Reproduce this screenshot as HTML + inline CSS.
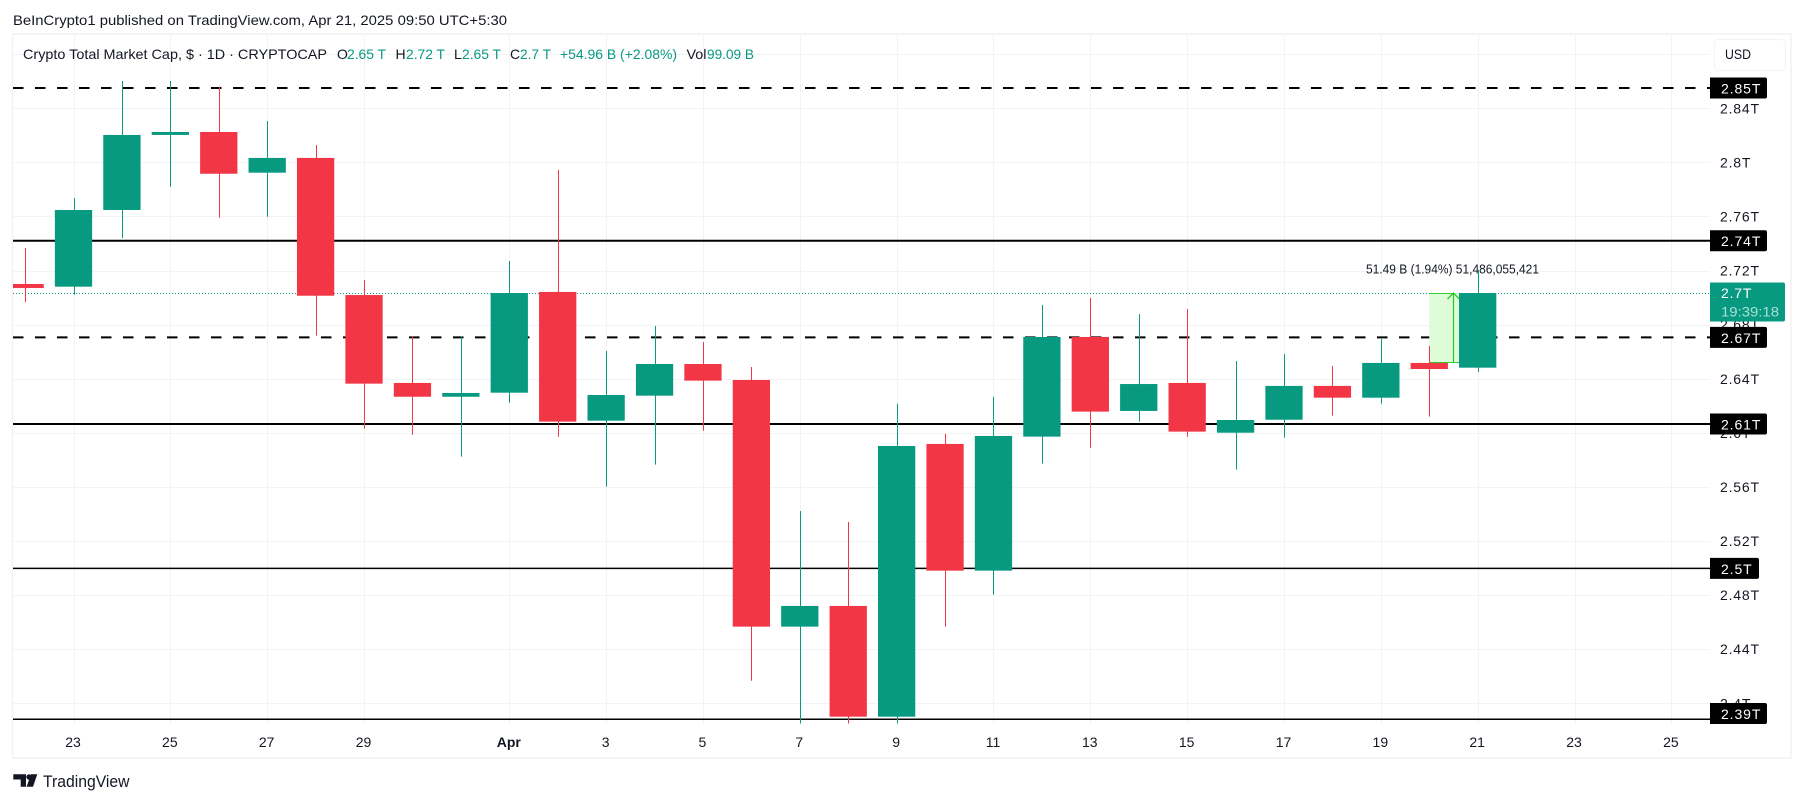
<!DOCTYPE html>
<html>
<head>
<meta charset="utf-8">
<title>Crypto Total Market Cap</title>
<style>
html,body{margin:0;padding:0;background:#fff;width:1804px;height:803px;overflow:hidden}
svg{display:block}
text{font-family:"Liberation Sans",sans-serif;font-size:14px;fill:#131722}
</style>
</head>
<body>
<svg id="chart" xmlns="http://www.w3.org/2000/svg" width="1804" height="803" viewBox="0 0 1804 803">
  <text x="13" y="25" textLength="494" lengthAdjust="spacingAndGlyphs">BeInCrypto1 published on TradingView.com, Apr 21, 2025 09:50 UTC+5:30</text>
  <rect x="12.5" y="34" width="1778.5" height="724" fill="#fff" stroke="#f5f5f6" stroke-width="2"/>
  <g id="grid"></g>
  <g id="range"></g>
  <g id="levels"></g>
  <g id="candles"></g>
  <g id="axisY"></g>
  <g id="axisX"></g>
  <g id="legend">
    <text x="23" y="59" textLength="304" lengthAdjust="spacingAndGlyphs">Crypto Total Market Cap, $ · 1D · CRYPTOCAP</text>
    <text x="337" y="59">O</text>
    <text x="347" y="59" textLength="39" lengthAdjust="spacingAndGlyphs" style="fill:#089981">2.65 T</text>
    <text x="395.5" y="59">H</text>
    <text x="406" y="59" textLength="39" lengthAdjust="spacingAndGlyphs" style="fill:#089981">2.72 T</text>
    <text x="454" y="59">L</text>
    <text x="462" y="59" textLength="39" lengthAdjust="spacingAndGlyphs" style="fill:#089981">2.65 T</text>
    <text x="510" y="59">C</text>
    <text x="520" y="59" textLength="31" lengthAdjust="spacingAndGlyphs" style="fill:#089981">2.7 T</text>
    <text x="560" y="59" textLength="117" lengthAdjust="spacingAndGlyphs" style="fill:#089981">+54.96 B (+2.08%)</text>
    <text x="686.5" y="59" textLength="20" lengthAdjust="spacingAndGlyphs">Vol</text>
    <text x="707" y="59" textLength="47" lengthAdjust="spacingAndGlyphs" style="fill:#089981">99.09 B</text>
  </g>
  <g>
    <rect x="1714.5" y="39.5" width="71" height="31" rx="4" fill="#fff" stroke="#f0f3fa"/>
    <text x="1725" y="59" textLength="26" lengthAdjust="spacingAndGlyphs">USD</text>
  </g>
  <g>
    <path d="M13.300 774.300H26V786.700H20.700V779.500H13.300ZM31 774.300H37.300L33 786.700H26.600ZM29 774.300a2.700 2.700 0 1 1 0 5.400a2.700 2.700 0 1 1 0-5.400Z" fill="#131722"/>
    <text x="43" y="787" textLength="86.500" lengthAdjust="spacingAndGlyphs" style="font-size:17px">TradingView</text>
  </g>
</svg>
<script>
const dayLabels = ["Mar 22","Mar 23","Mar 24","Mar 25","Mar 26","Mar 27","Mar 28","Mar 29","Mar 30","Mar 31","Apr 1","Apr 2","Apr 3","Apr 4","Apr 5","Apr 6","Apr 7","Apr 8","Apr 9","Apr 10","Apr 11","Apr 12","Apr 13","Apr 14","Apr 15","Apr 16","Apr 17","Apr 18","Apr 19","Apr 20","Apr 21"];
const opens  = [2.7101,2.7081,2.7648,2.8203,2.8225,2.7924,2.8033,2.7019,2.6369,2.6267,2.6297,2.7042,2.6090,2.6275,2.6509,2.6391,2.4567,2.4720,2.3901,2.5918,2.4981,2.5972,2.6709,2.6162,2.6369,2.6001,2.6097,2.6347,2.6260,2.6517,2.6482];
const highs  = [2.7367,2.7737,2.8602,2.8602,2.8560,2.8306,2.8129,2.7130,2.6714,2.6714,2.7271,2.7944,2.6605,2.6790,2.6672,2.6487,2.5422,2.5341,2.6215,2.5992,2.6267,2.6946,2.6997,2.6879,2.6916,2.6531,2.6583,2.6494,2.6694,2.6642,2.7204];
const lows   = [2.6968,2.7022,2.7441,2.7820,2.7591,2.7598,2.6719,2.6031,2.5986,2.5824,2.6223,2.5972,2.5602,2.5765,2.6016,2.4167,2.3803,2.3847,2.3803,2.4567,2.4803,2.5772,2.5890,2.6083,2.5972,2.5728,2.5964,2.6127,2.6216,2.6120,2.6450];
const closes = [2.7071,2.7648,2.8203,2.8225,2.7916,2.8033,2.7014,2.6364,2.6267,2.6295,2.7034,2.6083,2.6280,2.6509,2.6386,2.4567,2.4720,2.3901,2.5903,2.4981,2.5977,2.6709,2.6157,2.6361,2.6009,2.6095,2.6347,2.6260,2.6517,2.6472,2.7034];

const priceTicks = [2.84,2.8,2.76,2.72,2.68,2.64,2.6,2.56,2.52,2.48,2.44,2.4];
const priceTickLabels = ["2.84T","2.8T","2.76T","2.72T","2.68T","2.64T","2.6T","2.56T","2.52T","2.48T","2.44T","2.4T"];
const extraGridPrices = [2.88];

const timeTickIndex = [1,3,5,7,10,12,14,16,18,20,22,24,26,28,30,32,34];
const timeTickLabels = ["23","25","27","29","Apr","3","5","7","9","11","13","15","17","19","21","23","25"];

const levelValues = [2.8550,2.7421,2.6706,2.6065,2.4998,2.3882];
const levelLabels = ["2.85T","2.74T","2.67T","2.61T","2.5T","2.39T"];
const levelDashed = [true,false,true,false,false,false];
const levelWeight = [2,2,2,2,1.5,1.5];

const lastPrice = 2.7034;
const lastPriceLabel = "2.7T";
const countdownLabel = "19:39:18";

const rangeFromIndex = 29;
const rangeToIndex = 30;
const rangeFromPrice = 2.6517;
const rangeToPrice = 2.7034;
const rangeCaption = "51.49 B (1.94%) 51,486,055,421";

const PLOT = {left: 13, right: 1710, top: 35, bottom: 723.5};
const UP = "#089981", DOWN = "#f23645";
const GRID = "#f2f3f5";
function xDay(i){ return 73.5 + (i - 1) * 48.42; }
function yPrice(v){ return 108.3 + (2.84 - v) * 1352.3; }

const NS = "http://www.w3.org/2000/svg";
function mk(parent, tag, attrs, text){
  const el = document.createElementNS(NS, tag);
  for (const k in attrs) el.setAttribute(k, attrs[k]);
  if (text !== undefined) el.textContent = text;
  parent.appendChild(el);
  return el;
}

const defs = mk(document.getElementById("chart"), "defs", {});
const clip = mk(defs, "clipPath", {id: "plotClip"});
mk(clip, "rect", {x: PLOT.left, y: PLOT.top, width: PLOT.right - PLOT.left, height: PLOT.bottom - PLOT.top});

/* grid */
const grid = document.getElementById("grid");
priceTicks.concat(extraGridPrices).forEach(function(v){
  const y = Math.round(yPrice(v)) + 0.5;
  const ln = mk(grid, "line", {x1: PLOT.left, x2: PLOT.right, y1: y, y2: y, stroke: GRID, "stroke-width": 1});
  
  
});
timeTickIndex.forEach(function(i){
  const x = Math.round(xDay(i)) + 0.5;
  const ln = mk(grid, "line", {x1: x, x2: x, y1: PLOT.top, y2: PLOT.bottom, stroke: GRID, "stroke-width": 1});
  
  
});

/* range tool */
const range = document.getElementById("range");
const rx1 = xDay(rangeFromIndex), rx2 = xDay(rangeToIndex);
const ry1 = yPrice(rangeToPrice), ry2 = yPrice(rangeFromPrice);
const rmid = (rx1 + rx2) / 2;
const rangeRect = mk(range, "rect", {x: rx1, y: ry1, width: rx2 - rx1, height: ry2 - ry1, fill: "#dffcd9"});



/* last price line */
const levels = document.getElementById("levels");
const lastY = Math.round(yPrice(lastPrice)) + 0.5;
const lastLine = mk(levels, "line", {x1: PLOT.left, x2: PLOT.right, y1: lastY, y2: lastY, stroke: UP, "stroke-width": 1, "stroke-dasharray": "1 2"});



/* levels */
levelValues.forEach(function(v, i){
  const y = yPrice(v);
  const attrs = {x1: PLOT.left, x2: PLOT.right, y1: y, y2: y, stroke: "#000", "stroke-width": levelWeight[i]};
  if (levelDashed[i]) attrs["stroke-dasharray"] = "10.5 11.5";
  const ln = mk(levels, "line", attrs);
  
  
});

/* range arrow and edges */
const rangeEdges = mk(range, "path", {d: "M" + rx1 + " " + (ry1 + 0.5) + "H" + rmid + "M" + rx1 + " " + (ry2 - 0.5) + "H" + rx2, stroke: "#2fd02f", "stroke-width": 1, fill: "none"});


levels.parentNode.insertBefore(range, levels.nextSibling);
const arrow = mk(range, "path", {d: "M" + rmid + " " + ry2 + "V" + ry1 + "M" + (rmid - 6) + " " + (ry1 + 6) + "L" + rmid + " " + ry1 + "L" + (rmid + 6) + " " + (ry1 + 6), stroke: "#22c922", "stroke-width": 1.2, fill: "none"});



/* candles */
const candles = document.getElementById("candles");
candles.setAttribute("clip-path", "url(#plotClip)");
const bodyWidth = 0.77 * 48.42;
opens.forEach(function(o, i){
  const c = closes[i], color = c >= o ? UP : DOWN;
  const x = xDay(i);
  const wx = Math.round(x) + 0.5;
  const wick = mk(candles, "line", {x1: wx, x2: wx, y1: yPrice(highs[i]), y2: yPrice(lows[i]), stroke: color, "stroke-width": 1});
  
  
  const top = yPrice(Math.max(o, c)), bot = yPrice(Math.min(o, c));
  const body = mk(candles, "rect", {x: x - bodyWidth / 2, y: top, width: bodyWidth, height: Math.max(bot - top, 1), fill: color});
  
  
  const tip = mk(body, "title", {}, dayLabels[i]);
  
  
});

/* caption of range tool */
const capt = mk(range, "text", {x: 1366, y: yPrice(rangeToPrice) - 19.5, textLength: 173, lengthAdjust: "spacingAndGlyphs", style: "font-size:12.5px"}, rangeCaption);



/* price axis */
const axisY = document.getElementById("axisY");
priceTicks.forEach(function(v, i){
  const t = mk(axisY, "text", {x: 1720, y: yPrice(v) + 5, "letter-spacing": "0.8"}, priceTickLabels[i]);
  
  
});

/* last price tag */
const lastBoxY = yPrice(lastPrice) - 10.5;
const lastBox = mk(axisY, "path", {d: "M" + PLOT.right + " " + lastBoxY + "h73a2 2 0 0 1 2 2v35a2 2 0 0 1-2 2h-73z", fill: UP});


const lastText = mk(axisY, "text", {x: 1721, y: lastBoxY + 15.5, "letter-spacing": "0.8", style: "fill:#fff"}, lastPriceLabel);


const cdText = mk(axisY, "text", {x: 1721, y: lastBoxY + 34, textLength: 58, lengthAdjust: "spacingAndGlyphs", style: "fill:#a8e0d4"}, countdownLabel);



/* level tags */
levelValues.forEach(function(v, i){
  const label = levelLabels[i];
  const cy = Math.min(yPrice(v), PLOT.bottom - 10);
  const w = label.length === 4 ? 49 : 57;
  const box = mk(axisY, "path", {d: "M" + PLOT.right + " " + (cy - 10.5) + "h" + (w - 2) + "a2 2 0 0 1 2 2v17a2 2 0 0 1-2 2h-" + (w - 2) + "z", fill: "#000"});
  
  
  const t = mk(axisY, "text", {x: 1721, y: cy + 5.5, "letter-spacing": "0.9", style: "fill:#fff"}, label);
  
  
});

/* time axis */
const axisX = document.getElementById("axisX");
timeTickIndex.forEach(function(i, n){
  const label = timeTickLabels[n];
  const t = mk(axisX, "text", {x: xDay(i) - 0.5, y: 747, "text-anchor": "middle"}, label);
  if (label === "Apr") t.setAttribute("font-weight", "bold");
  
  
});
</script>
</body>
</html>
